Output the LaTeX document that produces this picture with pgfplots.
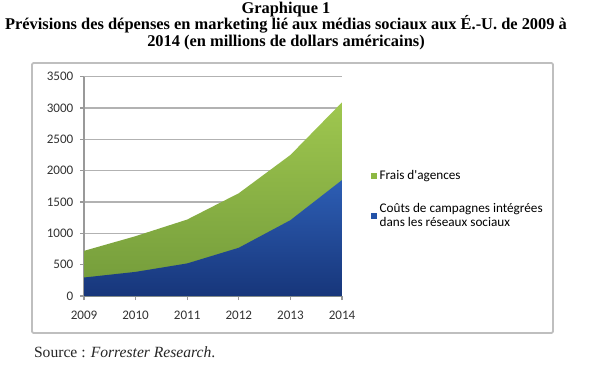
\documentclass[border=0pt]{standalone}
\usepackage{fontspec}
\setmainfont{Liberation Serif}
\newfontfamily\calibri{Carlito}
\usepackage{pgfplots}
\pgfplotsset{compat=1.18}
\definecolor{gtop}{HTML}{9FC74F}
\definecolor{gbot}{HTML}{729A3A}
\definecolor{btop}{HTML}{2D5EB4}
\definecolor{bbot}{HTML}{17367A}
\definecolor{gleg}{HTML}{8DB843}
\definecolor{bleg}{HTML}{2352A8}
\begin{document}
\begin{tikzpicture}
\fill[white] (0,0) rectangle (450pt,279pt);
\useasboundingbox (0,0) rectangle (450pt,279pt);
\draw[draw=black!25, line width=1.3pt, rounded corners=1pt] (24pt,29.25pt) rectangle (414.75pt,231.75pt);
\node[align=center, font=\fontsize{12.3}{14}\selectfont\bfseries] at (214.5pt,259.5pt)
  {Graphique 1\\[-1.6pt]Prévisions des dépenses en marketing lié aux médias sociaux aux É.-U. de 2009 à\\[-1.6pt]2014 (en millions de dollars américains)};
\node[anchor=west, font=\fontsize{11.7}{13}\selectfont, text=black!85] at (22pt,15pt) {Source : \textit{Forrester Research}.};
\begin{axis}[
  at={(63pt,57pt)}, anchor=origin,
  scale only axis, width=193.5pt, height=164.5pt,
  xmin=2009, xmax=2014, ymin=0, ymax=3500,
  xtick={2009,2010,2011,2012,2013,2014},
  ytick={0,500,1000,1500,2000,2500,3000,3500},
  /pgf/number format/1000 sep={},
  /pgf/number format/assume math mode=true,
  ticklabel style={font=\calibri\fontsize{9.8}{10}\selectfont, text=black!80},
  axis x line*=bottom, axis y line*=left,
  axis line style={black!40, line width=0.8pt},
  tick style={black!40, line width=0.8pt},
  tick align=outside, major tick length=3pt,
  ymajorgrids, grid style={black!30, line width=0.9pt},
  xticklabel style={yshift=-5pt},
  yticklabel style={xshift=-1.5pt},
  legend style={at={(1.095,0.6)}, anchor=north west, draw=none, fill=none,
    font=\calibri\fontsize{9.9}{10}\selectfont, cells={align=left, anchor=west},
    row sep=13pt},
  legend image code/.code={\fill[#1, draw=none] (0pt,-2.3pt) rectangle (4.6pt,2.3pt);},
]
\addplot[draw=none, top color=gtop, bottom color=gbot, forget plot] coordinates {
 (2009,720) (2010,955) (2011,1220) (2012,1640) (2013,2250) (2014,3090)} \closedcycle;
\addplot[draw=none, top color=btop, bottom color=bbot, forget plot] coordinates {
 (2009,295) (2010,385) (2011,520) (2012,770) (2013,1210) (2014,1850)} \closedcycle;
\addlegendimage{fill=gleg, draw=none}
\addlegendentry{Frais d'agences}
\addlegendimage{fill=bleg, draw=none}
\addlegendentry{Coûts de campagnes intégrées\\dans les réseaux sociaux}
\end{axis}
\end{tikzpicture}
\end{document}
